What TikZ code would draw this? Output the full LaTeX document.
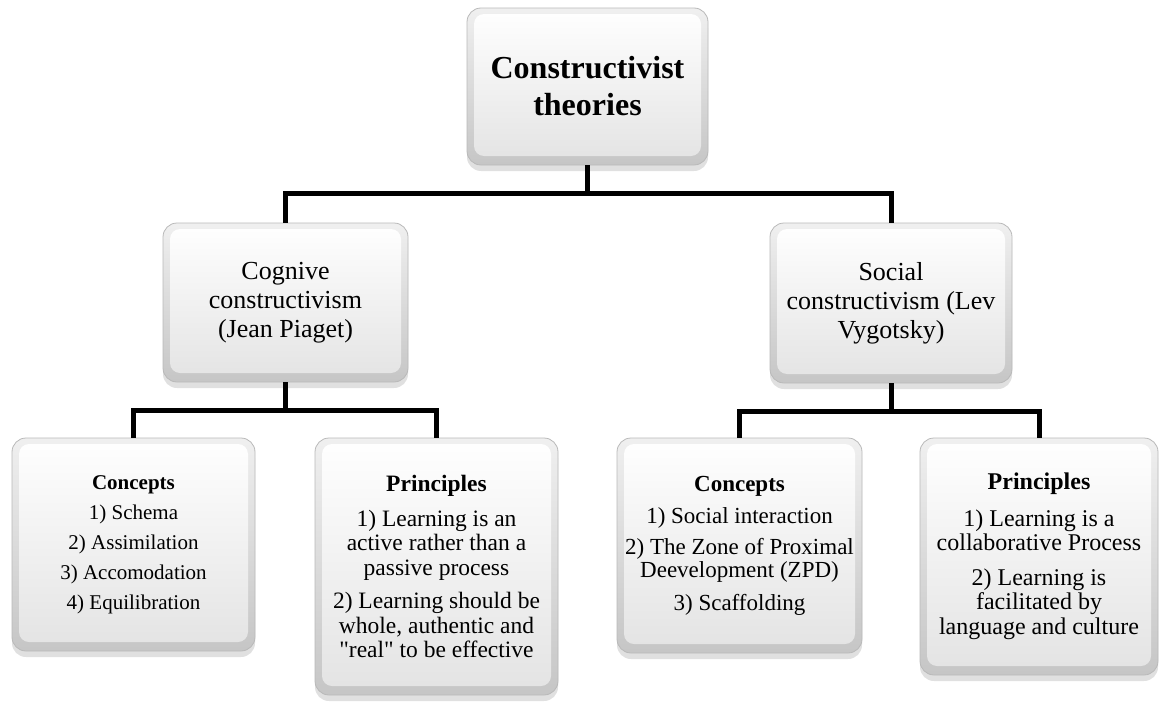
\documentclass[tikz,border=0pt]{standalone}
\usepackage{fontspec}
\defaultfontfeatures[\rmfamily]{}
\setmainfont{Liberation Serif}
\usetikzlibrary{shadows,backgrounds}
\tikzset{
  x=1pt, y=-1pt,
  bevelbox/.style={rounded corners=14pt, draw=gray!55, line width=0.8pt,
    top color=gray!12, bottom color=gray!45,
    drop shadow={shadow xshift=0pt, shadow yshift=-6pt, opacity=0.3, fill=gray!80},
    align=center, inner sep=0pt, text=black,
    path picture={\shade[rounded corners=10pt, top color=white, bottom color=gray!22]
      ([shift={(7pt,-6pt)}]path picture bounding box.north west) rectangle
      ([shift={(-7pt,9pt)}]path picture bounding box.south east);}},
  conn/.style={line width=5pt, black, line join=miter}
}
\begin{document}
\begin{tikzpicture}
\useasboundingbox (0,0) rectangle (1160,704);
% nodes
\node[bevelbox, minimum width=241pt, minimum height=157pt,
  font=\fontsize{32}{37}\selectfont\bfseries] (root) at (587.5,86.5)
  {Constructivist\\theories};
\node[bevelbox, minimum width=245pt, minimum height=159pt,
  font=\fontsize{26}{29}\selectfont] (lmid) at (285.5,302.5)
  {Cognive\\constructivism\\(Jean Piaget)};
\node[bevelbox, minimum width=242pt, minimum height=160pt,
  font=\fontsize{26}{29}\selectfont] (rmid) at (891,303)
  {Social\\constructivism (Lev\\Vygotsky)};
\node[bevelbox, minimum width=243pt, minimum height=213pt,
  font=\fontsize{21}{30}\selectfont] (lc) at (133.5,544.5)
  {\textbf{Concepts}\\1) Schema\\2) Assimilation\\3) Accomodation\\4) Equilibration};
\node[bevelbox, minimum width=243pt, minimum height=257pt,
  font=\fontsize{23.5}{24.5}\selectfont] (lp) at (436.5,566.5)
  {\textbf{Principles}\\[10pt]1) Learning is an\\active rather than a\\passive process\\[9pt]2) Learning should be\\whole, authentic and\\"real" to be effective};
\node[bevelbox, minimum width=245pt, minimum height=215pt,
  font=\fontsize{23}{23}\selectfont] (rc) at (739.5,545.5)
  {\textbf{Concepts}\\[9pt]1) Social interaction\\[8pt]2) The Zone of Proximal\\Deevelopment (ZPD)\\[10pt]3) Scaffolding};
\node[bevelbox, minimum width=238pt, minimum height=237pt,
  font=\fontsize{24}{24.5}\selectfont] (rp) at (1039,556.5)
  {\textbf{Principles}\\[12pt]1) Learning is a\\collaborative Process\\[10pt]2) Learning is\\facilitated by\\language and culture};
% connectors
\coordinate (b1) at (587.5,193);
\coordinate (b2) at (285.5,410);
\coordinate (b3) at (891,411);
\draw[conn] (root.south) -- (b1);
\draw[conn] (lmid.north) |- (b1) -| (rmid.north);
\draw[conn] (lmid.south) -- (b2);
\draw[conn] (lc.north) |- (b2) -| (lp.north);
\draw[conn] (rmid.south) -- (b3);
\draw[conn] (rc.north) |- (b3) -| (rp.north);
\end{tikzpicture}
\end{document}
